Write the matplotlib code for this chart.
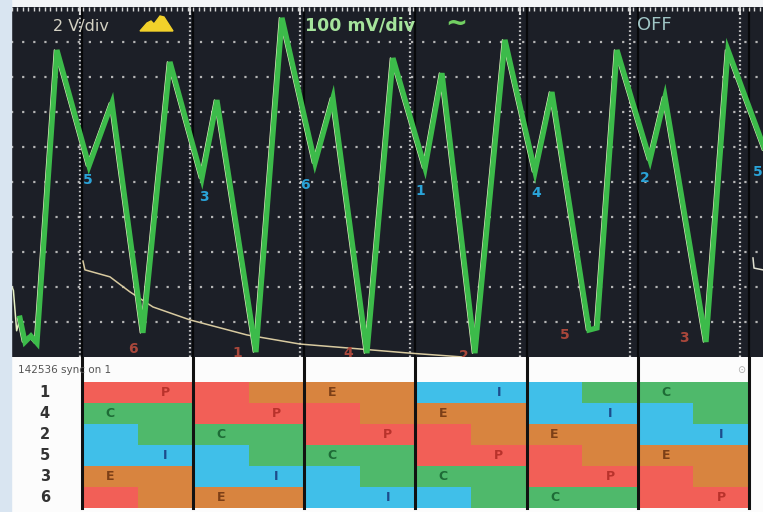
import matplotlib
matplotlib.use('Agg')
import matplotlib.pyplot as plt
import matplotlib.transforms as mtransforms
from matplotlib.patches import Rectangle, Polygon
import numpy as np

# scope trace, x in crank degrees (0 = first sync mark), y in divisions
wave_deg = [-66.9, -61.5, -55.1, -48.6, -27.0, 7.6, 32.4, 65.8, 95.0, 129.5, 145.7,
            187.8, 215.9, 251.5, 270.9, 307.6, 335.7, 370.3, 388.6, 424.2, 456.6,
            489.0, 507.3, 547.3, 555.9, 577.5, 613.1, 629.3, 673.6, 697.3, 737.3]
wave_div = [1.11, 0.43, 0.60, 0.40, 8.77, 5.46, 7.26, 0.69, 8.43, 5.11, 7.34,
            0.14, 9.69, 5.54, 7.40, 0.11, 8.54, 5.40, 8.11, 0.11, 9.06,
            5.29, 7.57, 0.77, 0.83, 8.77, 5.63, 7.43, 0.43, 8.77, 5.91]

# second channel (decay after sync)
decay_deg = [1.1, 3.2, 30.2, 51.8, 76.6, 116.6, 178.1, 235.3, 286.1, 354.1, 411.3]
decay_div = [2.74, 2.49, 2.29, 1.86, 1.43, 1.06, 0.63, 0.37, 0.26, 0.11, 0.0]
tail_deg = [724.3, 725.4, 735.0]
tail_div = [2.83, 2.54, 2.49]
lead_deg = [-75.5, -74.0, -70.5, -66.9]
lead_div = [2.0, 1.9, 0.75, 1.11]

# cylinder numbers on the trace
fire_num = ['5', '3', '6', '1', '4', '2', '5']
fire_deg = [6.5, 131.7, 240.7, 364.9, 490.1, 607.7, 729.7]
fire_div = [5.06, 4.57, 4.91, 4.74, 4.69, 5.11, 5.29]
low_num = ['6', '1', '4', '2', '5', '3']
low_deg = [55.1, 167.3, 287.1, 412.3, 521.4, 649.8]
low_div = [0.23, 0.11, 0.11, 0.03, 0.63, 0.54]

# stroke table: one letter per 60 degree half column
cyl_order = ['1', '4', '2', '5', '3', '6']
strokes = ['PPPEEEIIICCC',
           'CCPPPEEEIIIC',
           'ICCCPPPEEEII',
           'IIICCCPPPEEE',
           'EEIIICCCPPPE',
           'PEEEIIICCCPP']
cycle_marks = [0, 120, 240, 360, 480, 600, 720]
grid_x = [-2.2, 116.6, 235.3, 354.1, 472.8, 591.6, 710.3]

cell_col = {'P': '#f25f57', 'E': '#d8843f', 'I': '#40bfe9', 'C': '#4fb96b'}
txt_col = {'P': '#b8322b', 'E': '#7c3f17', 'I': '#1d4c8c', 'C': '#1e6b36'}

W, H = 763, 512
x0, x1 = -76.6, 735.1

fig = plt.figure(figsize=(W / 100, H / 100), dpi=100)
fig.patch.set_facecolor('#f3f5f7')
fig.patches.append(Rectangle((0, 0), 11 / W, 1, transform=fig.transFigure,
                             color='#d9e5f1', zorder=0))

# ---- scope screen ----
ax1 = fig.add_axes([11 / W, 155 / H, 752 / W, 350 / H])
ax1.set_facecolor('#1c1f27')
ax1.set_xlim(x0, x1)
ax1.set_ylim(0, 10)
for s in ax1.spines.values():
    s.set_visible(False)
ax1.xaxis.tick_top()
ax1.set_xticks(grid_x)
ax1.set_xticks(np.arange(-76, 736, 5.94), minor=True)
ax1.tick_params(axis='x', which='major', direction='in', length=6, width=1.2,
                color='#e8e8e8', labeltop=False, labelbottom=False)
ax1.tick_params(axis='x', which='minor', direction='in', length=3, width=1,
                color='#d8d8d8')
ax1.set_yticks([])

for gy in range(1, 10):
    ax1.axhline(gy, color='#b5b5b5', lw=1.6, dashes=(1, 4), zorder=1)
for gx in grid_x:
    ax1.axvline(gx, color='#d0d0d0', lw=1.6, dashes=(0.7, 1.2), zorder=1)
for cx in cycle_marks:
    ax1.axvline(cx, color='#07080a', lw=1.6, zorder=1.5)

ax1.plot(decay_deg, decay_div, color='#d8caa0', lw=1.1, zorder=2)
ax1.plot(tail_deg, tail_div, color='#e0e0d0', lw=1.1, zorder=2)
ax1.plot(lead_deg, lead_div, color='#e6f0c4', lw=1.1, zorder=2)

shift = mtransforms.offset_copy(ax1.transData, fig=fig, x=-2.5, y=0, units='dots')
ax1.plot(wave_deg, wave_div, color='#e6f0c4', lw=1.1, transform=shift, zorder=3)
ax1.plot(wave_deg, wave_div, color='#3cbb4a', lw=3.8, zorder=4,
         solid_joinstyle='miter')

for n, xd, yd in zip(fire_num, fire_deg, fire_div):
    ax1.text(xd, yd, n, color='#2aa3d8', fontsize=10, fontweight='bold',
             ha='center', va='center', zorder=5)
for n, xd, yd in zip(low_num, low_deg, low_div):
    ax1.text(xd, yd, n, color='#a9473b', fontsize=10, fontweight='bold',
             ha='center', va='center', zorder=5)

ax1.text(42 / 752, 330 / 350, '2 V/div', transform=ax1.transAxes, color='#d4d2c4',
         fontsize=11.5, ha='left', va='center')
icon = [(140, 31), (147, 23), (151, 21), (154, 24), (160, 16), (164, 17), (173, 31)]
ax1.add_patch(Polygon([((px - 11) / 752, (357 - py) / 350) for px, py in icon],
                      closed=True, transform=ax1.transAxes, color='#f2d12a'))
ax1.text(294 / 752, 332 / 350, '100 mV/div', transform=ax1.transAxes,
         color='#a6e49c', fontsize=12.5, fontweight='bold', ha='left', va='center')
ax1.text(434 / 752, 333 / 350, '~', transform=ax1.transAxes, color='#72cf62',
         fontsize=19, fontweight='bold', ha='left', va='center')
ax1.text(626 / 752, 332 / 350, 'OFF', transform=ax1.transAxes, color='#9fc5c5',
         fontsize=13, ha='left', va='center')

# ---- stroke table ----
ax2 = fig.add_axes([11 / W, 0, 752 / W, 155 / H])
ax2.set_facecolor('#fcfcfc')
ax2.set_xlim(x0, x1)
ax2.set_ylim(6.19, -1.19)
ax2.axis('off')
ax2.add_patch(Rectangle((0, 0), 1, 1, transform=ax2.transAxes, color='#fcfcfc', zorder=0))

for r, (cyl, row) in enumerate(zip(cyl_order, strokes)):
    ax2.text(-40, r + 0.5, cyl, color='#333333', fontsize=10.5, fontweight='bold',
             ha='center', va='center')
    for h, st in enumerate(row):
        ax2.barh(r + 0.5, 60, left=h * 60, height=1, color=cell_col[st], zorder=1)
        if row[h - 1] == st and row[(h + 1) % len(row)] == st:
            ax2.text(h * 60 + 30, r + 0.5, st, color=txt_col[st], fontsize=9,
                     fontweight='bold', ha='center', va='center', zorder=3)

for cx in cycle_marks:
    ax2.plot([cx, cx], [-1.19, 6.0], color='#111111', lw=2.2, zorder=2)

ax2.text(-69, -0.55, '142536 sync on 1', color='#555555', fontsize=7.5,
         ha='left', va='center')
ax2.text(712, -0.55, '⊙', color='#aaaaaa', fontsize=7, ha='center', va='center')

fig.savefig('out.png', dpi=100, facecolor=fig.get_facecolor())
